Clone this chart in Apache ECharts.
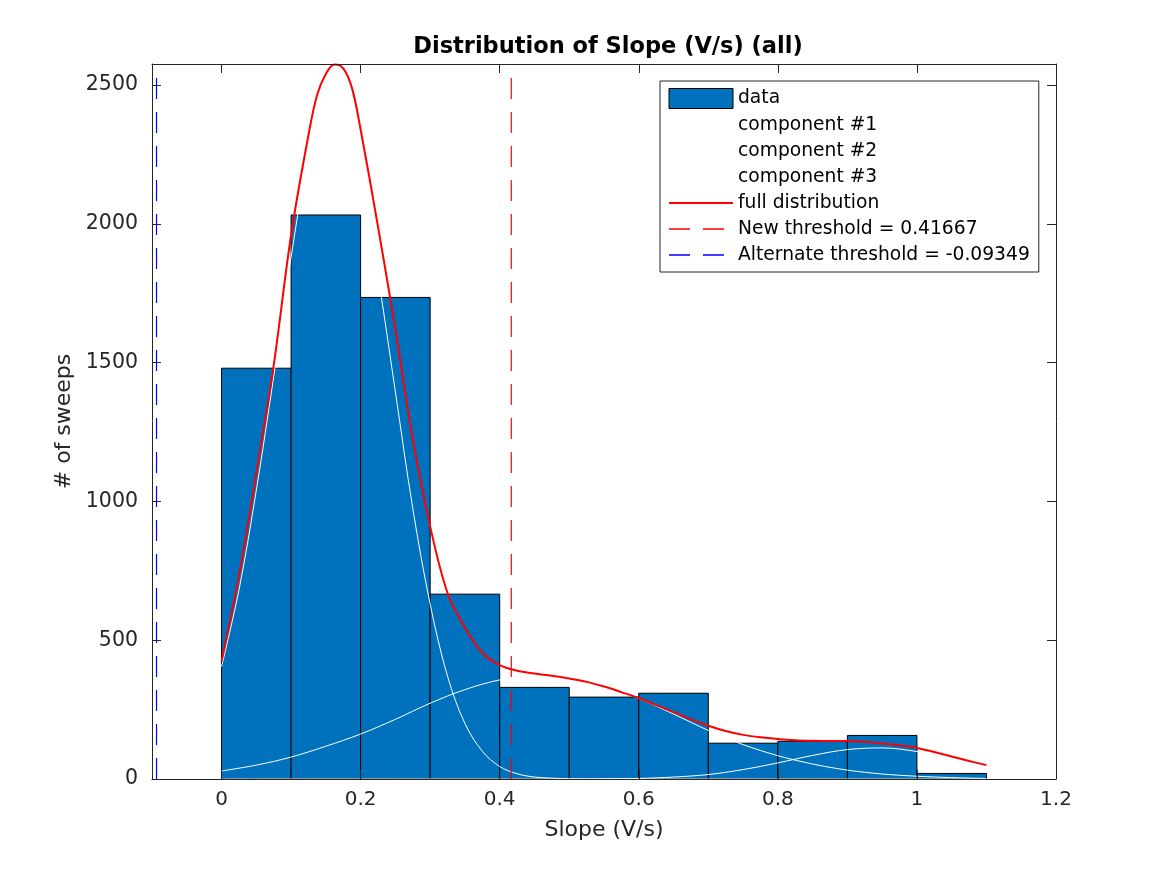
<!DOCTYPE html>
<html>
<head>
<meta charset="utf-8">
<script src="https://cdn.jsdelivr.net/npm/echarts@6/dist/echarts.min.js"></script>
<style>
html,body{margin:0;padding:0;background:#fff;}
#chart{width:1167px;height:875px;}
</style>
</head>
<body>
<div id="chart"></div>
<script>
// ---- data ----
const binLeft  = [0, 0.1, 0.2, 0.3, 0.4, 0.5, 0.6, 0.7, 0.8, 0.9, 1.0];
const binRight = [0.1, 0.2, 0.3, 0.4, 0.5, 0.6, 0.7, 0.8, 0.9, 1.0, 1.1];
const counts   = [1480, 2032, 1735, 666, 330, 295, 309, 129, 136, 157, 20];

const fullX = [0,0.025,0.05,0.075,0.1,0.125,0.1375,0.15,0.1625,0.175,0.1875,0.2,0.225,0.25,0.275,0.3,0.325,0.35,0.375,0.4,
               0.425,0.45,0.475,0.5,0.525,0.55,0.575,0.6,0.625,0.65,0.675,0.7,0.725,0.75,0.775,0.8,0.825,0.85,0.875,0.9,
               0.925,0.95,0.975,1.0,1.025,1.05,1.075,1.1];
const fullY = [425,730,1100,1490,1960,2320,2465,2540,2574,2560,2490,2340,1990,1620,1225,910,670,545,455,410,
               390,380,372,362,350,333,313,292,266,241,215,192,173,159,150,144,140,138,137,137,
               134,128,121,112,97,81,65,50];

const comp1X = [0,0.025,0.05,0.075,0.1,0.125,0.15,0.175,0.2,0.225,0.25,0.275,0.3,0.325,0.35,0.375,0.4,0.425,0.45,0.475,0.5,
                0.55,0.6,0.65,0.7,0.75,0.8,0.85,0.9,0.95,1.0,1.05,1.1];
const comp1Y = [405,680,1040,1450,1880,2235,2425,2415,2190,1815,1395,975,630,370,200,100,45,19,7,3,1,
                0,0,0,0,0,0,0,0,0,0,0,0];

const compX  = [0,0.05,0.1,0.15,0.2,0.25,0.3,0.35,0.4,0.45,0.5,0.55,0.6,0.65,0.7,0.75,0.8,0.85,0.9,0.95,1.0,1.05,1.1];
const comp2Y = [29,50,79,118,162,215,273,322,357,373,361,334,290,234,175,124,84,54,32,18,10,5,2];
const comp3Y = [0,0,0,0,0,0,0,0,0,0,0,1,2,7,16,34,58,85,106,112,99,75,48];

const newThreshold = 0.41667;
const altThreshold = -0.09349;
const yTop = 2576;
const xTicks = [0, 0.2, 0.4, 0.6, 0.8, 1, 1.2];
const yTicks = [0, 500, 1000, 1500, 2000, 2500];

const legendNames = ['data','component #1','component #2','component #3','full distribution',
  'New threshold = 0.41667','Alternate threshold = -0.09349'];

// ---- build ----
const zip = (xs, ys) => xs.map((x, i) => [x, ys[i]]);
const histData = counts.map((c, i) => [binLeft[i], binRight[i], c]);
const FONT = 'DejaVu Sans';
const AX = '#262626';
const DASH = [21, 13];
const noSym = {color: 'rgba(0,0,0,0)', borderWidth: 0, opacity: 0};

const isTick = (v, list) => list.some(t => Math.abs(t - v) < 1e-9);

const xAxisBase = {
  type: 'value', min: -0.1, max: 1.2, splitNumber: 6, z: 5,
  axisLine: {show: true, onZero: false, lineStyle: {color: AX, width: 1}},
  axisTick: {show: true, inside: true, length: 9, lineStyle: {color: AX}},
  splitLine: {show: false}
};
const yAxisBase = {
  type: 'value', min: 0, max: yTop, interval: 500, z: 5,
  axisLine: {show: true, onZero: false, lineStyle: {color: AX, width: 1}},
  axisTick: {show: true, inside: true, length: 9, lineStyle: {color: AX}},
  splitLine: {show: false}
};

const chart = echarts.init(document.getElementById('chart'), null, {renderer: 'canvas'});
chart.setOption({
  animation: false,
  backgroundColor: '#fff',
  title: {
    text: 'Distribution of Slope (V/s) (all)',
    left: 603, top: 31, textAlign: 'center',
    textStyle: {fontFamily: FONT, fontSize: 22.5, fontWeight: 'bold', color: '#000'}
  },
  grid: {left: 152, right: 111, top: 64, bottom: 96, containLabel: false},
  xAxis: [
    Object.assign({}, xAxisBase, {
      position: 'bottom',
      name: 'Slope (V/s)', nameLocation: 'middle', nameGap: 40,
      nameTextStyle: {fontFamily: FONT, fontSize: 22, color: AX},
      axisLabel: {show: true, margin: 11, fontFamily: FONT, fontSize: 20, color: AX,
        formatter: v => isTick(v, xTicks) ? String(Math.round(v * 10) / 10) : ''}
    }),
    Object.assign({}, xAxisBase, {position: 'top', axisLabel: {show: false}})
  ],
  yAxis: [
    Object.assign({}, yAxisBase, {
      position: 'left',
      name: '# of sweeps', nameLocation: 'middle', nameGap: 64, nameRotate: 90,
      nameTextStyle: {fontFamily: FONT, fontSize: 22, color: AX},
      axisLabel: {show: true, margin: 14, fontFamily: FONT, fontSize: 20.5, color: AX,
        formatter: v => isTick(v, yTicks) ? String(v) : ''}
    }),
    Object.assign({}, yAxisBase, {position: 'right', axisLabel: {show: false}})
  ],
  legend: {
    show: true, orient: 'vertical', left: 660, top: 81,
    backgroundColor: '#fff', borderColor: AX, borderWidth: 1,
    padding: [7, 9, 7, 8], itemWidth: 64, itemHeight: 20, itemGap: 6, itemTextGap: 6,
    selectedMode: false,
    textStyle: {fontFamily: FONT, fontSize: 18.7, color: '#000', lineHeight: 20},
    data: [
      {name: legendNames[0], icon: 'rect', itemStyle: {color: '#0072BD', borderColor: '#000', borderWidth: 1}},
      {name: legendNames[1], itemStyle: noSym, lineStyle: {color: '#fff', width: 1}},
      {name: legendNames[2], itemStyle: noSym, lineStyle: {color: '#fff', width: 1}},
      {name: legendNames[3], itemStyle: noSym, lineStyle: {color: '#fff', width: 1}},
      {name: legendNames[4], itemStyle: noSym, lineStyle: {color: '#ff0000', width: 2}},
      {name: legendNames[5], itemStyle: noSym, lineStyle: {color: '#ff0000', width: 1.4, type: DASH}},
      {name: legendNames[6], itemStyle: noSym, lineStyle: {color: '#0000ff', width: 1.4, type: DASH}}
    ]
  },
  series: [
    {
      name: legendNames[0], type: 'custom', xAxisIndex: 0, yAxisIndex: 0,
      itemStyle: {color: '#0072BD', borderColor: '#000', borderWidth: 1},
      encode: {x: [0, 1], y: 2},
      data: histData,
      renderItem: function (params, api) {
        const p0 = api.coord([api.value(0), 0]);
        const p1 = api.coord([api.value(1), api.value(2)]);
        return {
          type: 'rect',
          shape: {x: p0[0], y: p1[1], width: p1[0] - p0[0], height: p0[1] - p1[1]},
          style: {fill: '#0072BD', stroke: '#000', lineWidth: 1}
        };
      }
    },
    {name: legendNames[1], type: 'line', symbol: 'none', smooth: 0.35,
     data: zip(comp1X, comp1Y), lineStyle: {color: '#fff', width: 1}, itemStyle: {color: '#fff'}},
    {name: legendNames[2], type: 'line', symbol: 'none', smooth: 0.35,
     data: zip(compX, comp2Y), lineStyle: {color: '#fff', width: 1}, itemStyle: {color: '#fff'}},
    {name: legendNames[3], type: 'line', symbol: 'none', smooth: 0.35,
     data: zip(compX, comp3Y), lineStyle: {color: '#fff', width: 1}, itemStyle: {color: '#fff'}},
    {name: legendNames[4], type: 'line', symbol: 'none', smooth: 0.35,
     data: zip(fullX, fullY), lineStyle: {color: '#ff0000', width: 2}, itemStyle: {color: '#ff0000'}},
    {name: legendNames[5], type: 'line', symbol: 'none',
     data: [[newThreshold, 0], [newThreshold, yTop]],
     lineStyle: {color: '#ff0000', width: 1.2, type: DASH}, itemStyle: {color: '#ff0000'}},
    {name: legendNames[6], type: 'line', symbol: 'none',
     data: [[altThreshold, 0], [altThreshold, yTop]],
     lineStyle: {color: '#0000ff', width: 1.2, type: DASH}, itemStyle: {color: '#0000ff'}}
  ]
});
</script>
</body>
</html>
